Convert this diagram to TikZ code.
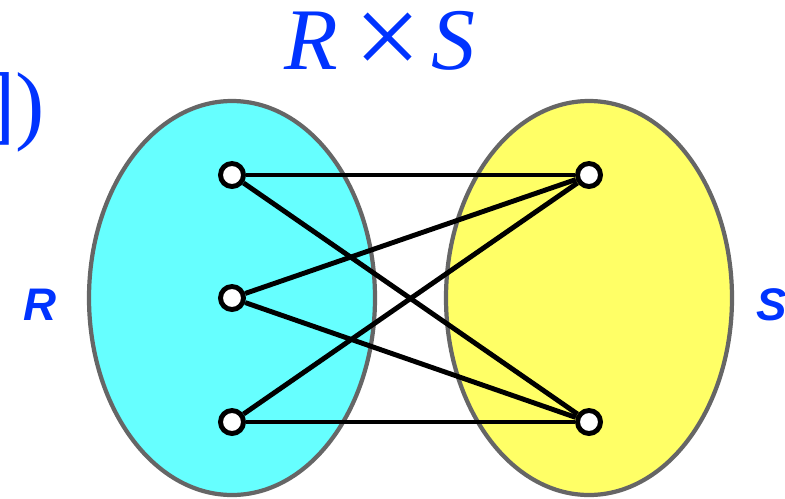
\documentclass[tikz,border=0pt]{standalone}
\usepackage{fontspec}
\setmainfont{Liberation Serif}
\setsansfont{Liberation Sans}
\usepackage{tikz}

\definecolor{setcyan}{HTML}{66FFFF}
\definecolor{setyellow}{HTML}{FFFF66}
\definecolor{setrim}{HTML}{666666}
\definecolor{textblue}{HTML}{0033FF}

\tikzset{
    elem/.style={circle, draw=black, fill=white, line width=2.8pt, minimum size=0.46cm, inner sep=0pt},
    pair/.style={black, line width=2.8pt},
    setlabel/.style={textblue, font=\sffamily\bfseries\itshape\fontsize{26}{26}\selectfont}
}

\begin{document}
\begin{tikzpicture}[x=0.02cm, y=-0.02cm]
    \useasboundingbox (0,0) rectangle (785,498);
    \clip (0,0) rectangle (785,498);

    \filldraw[fill=setcyan, draw=setrim, line width=2.4pt] (232,298) ellipse (143 and 197);
    \filldraw[fill=setyellow, draw=setrim, line width=2.4pt] (589,298) ellipse (143 and 197);

    \node[textblue, font=\fontsize{50}{50}\selectfont] (title) at (380,44)
        {\textit{R}\hspace{0.18em}\raisebox{-0.08em}{\scalebox{1.35}{×}}\hspace{0.12em}\textit{S}};
    \node[textblue, font=\fontsize{50}{50}\selectfont, anchor=east, inner sep=0pt] (brk) at (45,112) {])};
    \node[setlabel] (lblR) at (40,305) {R};
    \node[setlabel] (lblS) at (772,305) {S};

    \node[elem] (r1) at (232,175) {};
    \node[elem] (r2) at (232,298) {};
    \node[elem] (r3) at (232,422) {};
    \node[elem] (s1) at (589,175) {};
    \node[elem] (s2) at (589,422) {};

    \foreach \r in {r1,r2,r3}
        \foreach \s in {s1,s2}
            \draw[pair] (\r) -- (\s);
\end{tikzpicture}
\end{document}
